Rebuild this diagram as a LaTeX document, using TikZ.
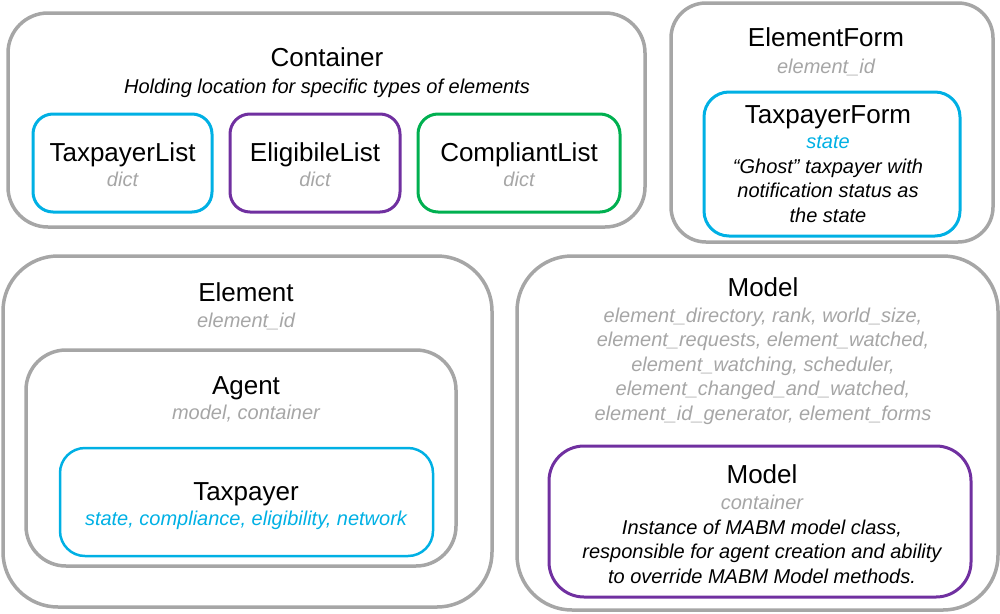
\documentclass[tikz,border=0pt]{standalone}
\usepackage{fontspec}
\setmainfont{Liberation Sans}
\usetikzlibrary{positioning}
\definecolor{abCyan}{RGB}{0,176,228}
\definecolor{abPurple}{RGB}{112,48,160}
\definecolor{abGreen}{RGB}{0,176,80}
\definecolor{abGrey}{RGB}{166,166,166}

\tikzset{
  greybox/.style={draw=abGrey, line width=3.5pt, inner sep=0pt},
  colbox/.style={line width=3pt, inner sep=0pt},
  ttl/.style={anchor=base, inner sep=0pt, font=\fontsize{26}{30}\selectfont},
  attr/.style={anchor=base, inner sep=0pt, align=center, text=abGrey, font=\fontsize{20}{24.5}\selectfont\itshape},
  note/.style={anchor=base, inner sep=0pt, align=center, font=\fontsize{20}{24.5}\selectfont\itshape},
}

\begin{document}
\begin{tikzpicture}[x=1pt, y=-1pt]
  \useasboundingbox (0,0) rectangle (1000,613);

  % container and its lists
  \node[greybox, rounded corners=40pt, minimum width=637pt, minimum height=214pt] (cont) at (326.5,120) {};
  \node[ttl] (contT) at (327,66) {Container};
  \node[note] (contD) at (327,93) {Holding location for specific types of elements};
  \node[colbox, draw=abCyan, rounded corners=20pt, minimum width=179pt, minimum height=98pt] (tlist) at (122.5,163) {};
  \node[colbox, draw=abPurple, rounded corners=20pt, minimum width=170pt, minimum height=98pt] (elist) at (315,163) {};
  \node[colbox, draw=abGreen, rounded corners=20pt, minimum width=202pt, minimum height=98pt] (clist) at (519,163) {};
  \node[ttl] (tlistT) at (122.5,161) {TaxpayerList};
  \node[attr] (tlistA) at (122.5,186) {dict};
  \node[ttl] (elistT) at (315,161) {EligibileList};
  \node[attr] (elistA) at (315,186) {dict};
  \node[ttl] (clistT) at (519,161) {CompliantList};
  \node[attr] (clistA) at (519,186) {dict};

  % element form (multi-line nodes sit on their last line)
  \node[greybox, rounded corners=35pt, minimum width=322pt, minimum height=239pt] (eform) at (832,122.5) {};
  \node[ttl] (eformT) at (826,46) {ElementForm};
  \node[attr] (eformA) at (826,73) {element\_id};
  \node[colbox, draw=abCyan, rounded corners=25pt, minimum width=256pt, minimum height=144pt] (tform) at (832,164) {};
  \node[ttl] (tformT) at (828,123) {TaxpayerForm};
  \node[attr, text=abCyan] (tformA) at (828,148) {state};
  \node[note] (tformD) at (828,222) {“Ghost” taxpayer with\\notification status as\\the state};

  % element, agent, taxpayer
  \node[greybox, rounded corners=55pt, minimum width=489pt, minimum height=351pt] (elem) at (247.5,431.5) {};
  \node[ttl] (elemT) at (246,301) {Element};
  \node[attr] (elemA) at (246,327) {element\_id};
  \node[greybox, rounded corners=40pt, minimum width=430pt, minimum height=216pt] (agent) at (241,458) {};
  \node[ttl] (agentT) at (246,394) {Agent};
  \node[attr] (agentA) at (246,419) {model, container};
  \node[colbox, draw=abCyan, line width=2.5pt, rounded corners=25pt, minimum width=373pt, minimum height=108pt] (tpay) at (246.5,502) {};
  \node[ttl] (tpayT) at (246,500) {Taxpayer};
  \node[attr, text=abCyan] (tpayA) at (246,525) {state, compliance, eligibility, network};

  % model
  \node[greybox, rounded corners=55pt, minimum width=481pt, minimum height=354pt] (model) at (757.5,433) {};
  \node[ttl] (modelT) at (763,296) {Model};
  \node[attr] (modelA) at (763,420) {element\_directory, rank, world\_size,\\element\_requests, element\_watched,\\element\_watching, scheduler,\\element\_changed\_and\_watched,\\element\_id\_generator, element\_forms};
  \node[colbox, draw=abPurple, rounded corners=35pt, minimum width=422pt, minimum height=151pt] (mabm) at (760,521.5) {};
  \node[ttl] (mabmT) at (762,483) {Model};
  \node[attr] (mabmA) at (762,509) {container};
  \node[note] (mabmD) at (762,583) {Instance of MABM model class,\\responsible for agent creation and ability\\to override MABM Model methods.};
\end{tikzpicture}
\end{document}
